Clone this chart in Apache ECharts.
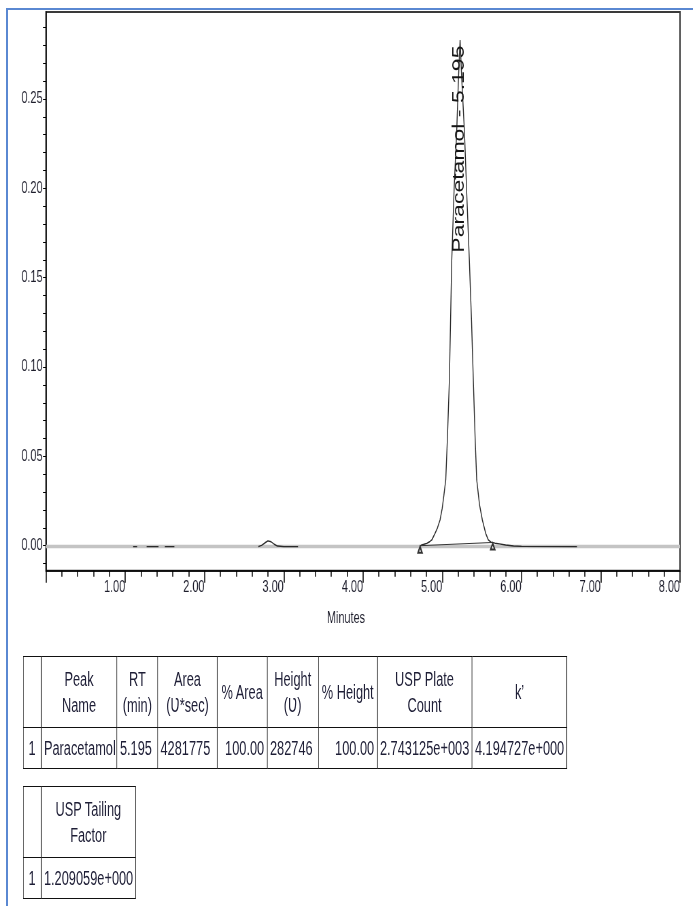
<!DOCTYPE html>
<html>
<head>
<meta charset="utf-8">
<title>Paracetamol chromatogram</title>
<script src="https://cdn.jsdelivr.net/npm/echarts@6/dist/echarts.min.js"></script>
<style>
  html, body { margin: 0; padding: 0; background: #fff; }
  body {
    width: 693px;
    height: 906px;
    position: relative;
    overflow: hidden;
    font-family: 'Liberation Sans', Arial, sans-serif;
  }
  .frame {
    position: absolute;
    left: 6px;
    top: 8px;
    right: -4px;
    bottom: -4px;
    border-left: 2px solid #5a88d2;
    border-top: 2px solid #5a88d2;
  }
  /* the source picture is squeezed sideways, so draw wide and squeeze */
  .squeeze {
    position: absolute;
    left: 0;
    top: 0;
    transform-origin: 0 0;
  }
  #chartBox { width: 1019px; height: 640px; transform: scaleX(0.68); }
  #chart { width: 1019px; height: 640px; }
  #tableBox { width: 1083px; height: 906px; transform: scaleX(0.64); }
  table {
    position: absolute;
    left: 35.5px;
    border-collapse: collapse;
    table-layout: fixed;
    color: #1e1e36;
    font-size: 20px;
    line-height: 26px;
  }
  td {
    border: 1.5px solid #111;
    padding: 0 4px;
    white-space: nowrap;
    overflow: hidden;
    vertical-align: middle;
  }
  tr.hr td { height: 70px; text-align: center; }
  tr.dr td { height: 40px; }
  #peakTable { top: 656px; }
  #tailTable { top: 786px; }
</style>
</head>
<body>
<div class="frame"></div>
<div class="squeeze" id="chartBox"><div id="chart"></div></div>
<div class="squeeze" id="tableBox">
  <table id="peakTable"></table>
  <table id="tailTable"></table>
</div>
<script>
// detector trace (minutes, volts); null breaks the line
const traceTime = [
  1.10, 1.15, 1.15,
  1.27, 1.42, 1.42,
  1.50, 1.62, 1.62,
  2.68, 2.72, 2.76, 2.80, 2.84, 2.88, 2.92, 3.00, 3.18, 3.18,
  4.72, 4.741, 4.77, 4.805, 4.84, 4.868, 4.909, 4.94, 4.972, 5.00,
  5.02, 5.044, 5.065, 5.09, 5.12, 5.15, 5.183, 5.205, 5.225, 5.245,
  5.279, 5.31, 5.342, 5.37, 5.392, 5.415, 5.435, 5.47, 5.506, 5.548,
  5.581, 5.615, 5.665, 5.72, 5.80, 5.90, 6.00, 6.70
];
const traceValue = [
  -0.0005, -0.0005, null,
  -0.0005, -0.0005, null,
  -0.0005, -0.0005, null,
  -0.0005, 0.0002, 0.0015, 0.0027, 0.0022, 0.0008, -0.0002, -0.0005, -0.0005, null,
  -0.0003, 0.0004, 0.0008, 0.0013, 0.0022, 0.0032, 0.0069, 0.0100, 0.0144, 0.0210,
  0.0280, 0.0368, 0.0600, 0.0927, 0.1598, 0.2000, 0.2326, 0.2620, 0.2830, 0.2620,
  0.2326, 0.1960, 0.1598, 0.1250, 0.0927, 0.0600, 0.0368, 0.0230, 0.0144, 0.0069,
  0.0032, 0.0020, 0.0014, 0.0010, 0.0004, -0.0002, -0.0004, -0.0005
];
// grey baseline band across the run
const bandTime = [0, 8];
const bandValue = [-0.0005, -0.0005];
// integration baseline under the peak (start / end marks)
const integTime = [4.72, 5.637];
const integValue = [0.0, 0.0018];

const peakName = 'Paracetamol';
const peakRT = 5.195;
const peakLabelFoot = 0.164;

const xLabelValues = [1, 2, 3, 4, 5, 6, 7, 8];
const yLabelValues = [0, 0.05, 0.10, 0.15, 0.20, 0.25];
const yTickValues = [
  -0.01, 0.00, 0.01, 0.02, 0.03, 0.04, 0.05, 0.06, 0.07, 0.08, 0.09, 0.10,
  0.11, 0.12, 0.13, 0.14, 0.15, 0.16, 0.17, 0.18, 0.19, 0.20,
  0.21, 0.22, 0.23, 0.24, 0.25, 0.26, 0.27, 0.28, 0.29
];

// result tables
const peakHeader = ['', 'Peak\nName', 'RT\n(min)', 'Area\n(\u01B2*sec)', '% Area', 'Height\n(\u01B2)', '% Height', 'USP Plate\nCount', 'k\u2019'];
const peakRow = ['1', 'Paracetamol', '5.195', '4281775', '100.00', '282746', '100.00', '2.743125e+003', '4.194727e+000'];
const tailHeader = ['', 'USP Tailing\nFactor'];
const tailRow = ['1', '1.209059e+000'];

const FONT = '"Liberation Sans", Arial, sans-serif';
const INK = '#1d1d2b';

function pairs(xs, ys) {
  return xs.map((x, i) => [x, ys[i] === null ? '-' : ys[i]]);
}

function buildTable(el, widths, header, row, aligns) {
  const total = widths.reduce((a, b) => a + b, 0);
  el.style.width = total + 'px';
  const cols = widths.map((w) => `<col style="width:${w}px">`).join('');
  const th = header.map((h) => `<td>${h.split('\n').join('<br>')}</td>`).join('');
  const td = row.map((v, i) => `<td style="text-align:${aligns[i]}">${v}</td>`).join('');
  el.innerHTML = `<colgroup>${cols}</colgroup><tr class="hr">${th}</tr><tr class="dr">${td}</tr>`;
}

buildTable(
  document.getElementById('peakTable'),
  [28.1, 118.8, 63.4, 93.3, 77.7, 80.2, 91.7, 148.4, 148.4],
  peakHeader,
  peakRow,
  ['center', 'left', 'left', 'left', 'right', 'left', 'right', 'left', 'left']
);
buildTable(
  document.getElementById('tailTable'),
  [28.1, 147.8],
  tailHeader,
  tailRow,
  ['center', 'left']
);

const chart = echarts.init(document.getElementById('chart'));
chart.setOption({
  animation: false,
  backgroundColor: 'transparent',
  grid: {
    left: 67.6,
    right: 19,
    top: 12,
    bottom: 69.3,
    show: true,
    borderColor: '#3a3a3a',
    borderWidth: 2
  },
  xAxis: {
    type: 'value',
    min: 0,
    max: 8,
    interval: 1,
    axisLine: { show: true, onZero: false, lineStyle: { color: '#000', width: 1.5 } },
    axisTick: { show: true, length: 12, lineStyle: { color: '#000', width: 1.5 } },
    minorTick: { show: true, splitNumber: 5, length: 6, lineStyle: { color: '#000', width: 1.5 } },
    axisLabel: {
      customValues: xLabelValues,
      formatter: (v) => v.toFixed(2),
      align: 'right',
      margin: 9,
      fontSize: 16,
      fontFamily: FONT,
      color: INK
    },
    splitLine: { show: false },
    minorSplitLine: { show: false },
    name: 'Minutes',
    nameLocation: 'middle',
    nameGap: 40,
    nameTextStyle: { fontSize: 16, fontFamily: FONT, color: INK, padding: [0, 50, 0, 0] }
  },
  yAxis: {
    type: 'value',
    min: -0.014,
    max: 0.2987,
    axisLine: { show: true, onZero: false, lineStyle: { color: '#000', width: 1.5 } },
    axisTick: { show: true, customValues: yTickValues, length: 4.4, lineStyle: { color: '#000', width: 1 } },
    axisLabel: {
      customValues: yLabelValues,
      formatter: (v) => v.toFixed(2),
      margin: 5,
      fontSize: 16,
      fontFamily: FONT,
      color: INK
    },
    splitLine: { show: false }
  },
  series: [
    {
      type: 'line',
      data: pairs(bandTime, bandValue),
      symbol: 'none',
      silent: true,
      lineStyle: { color: '#c4c4c4', width: 3.5 },
      z: 1
    },
    {
      type: 'line',
      data: pairs(traceTime, traceValue),
      symbol: 'none',
      connectNulls: false,
      lineStyle: { color: '#2b2b2b', width: 1.4 },
      z: 2
    },
    {
      type: 'line',
      data: pairs(integTime, integValue),
      symbol: 'emptyTriangle',
      symbolSize: [6, 6],
      symbolOffset: [0, 4],
      showSymbol: true,
      itemStyle: { color: '#333', borderWidth: 1 },
      lineStyle: { color: '#333', width: 1 },
      z: 3
    }
  ]
});

// peak label stands on its foot, reading upwards
const foot = chart.convertToPixel({ gridIndex: 0 }, [peakRT, peakLabelFoot]);
chart.setOption({
  graphic: [
    {
      type: 'text',
      x: foot[0] + 3,
      y: foot[1],
      rotation: Math.PI / 2,
      z: 10,
      style: {
        text: peakName + ' - ' + peakRT.toFixed(3),
        fontSize: 23,
        fontFamily: FONT,
        fill: '#151515',
        align: 'left',
        verticalAlign: 'middle',
        textAlign: 'left',
        textVerticalAlign: 'middle'
      }
    }
  ]
});
</script>
</body>
</html>
